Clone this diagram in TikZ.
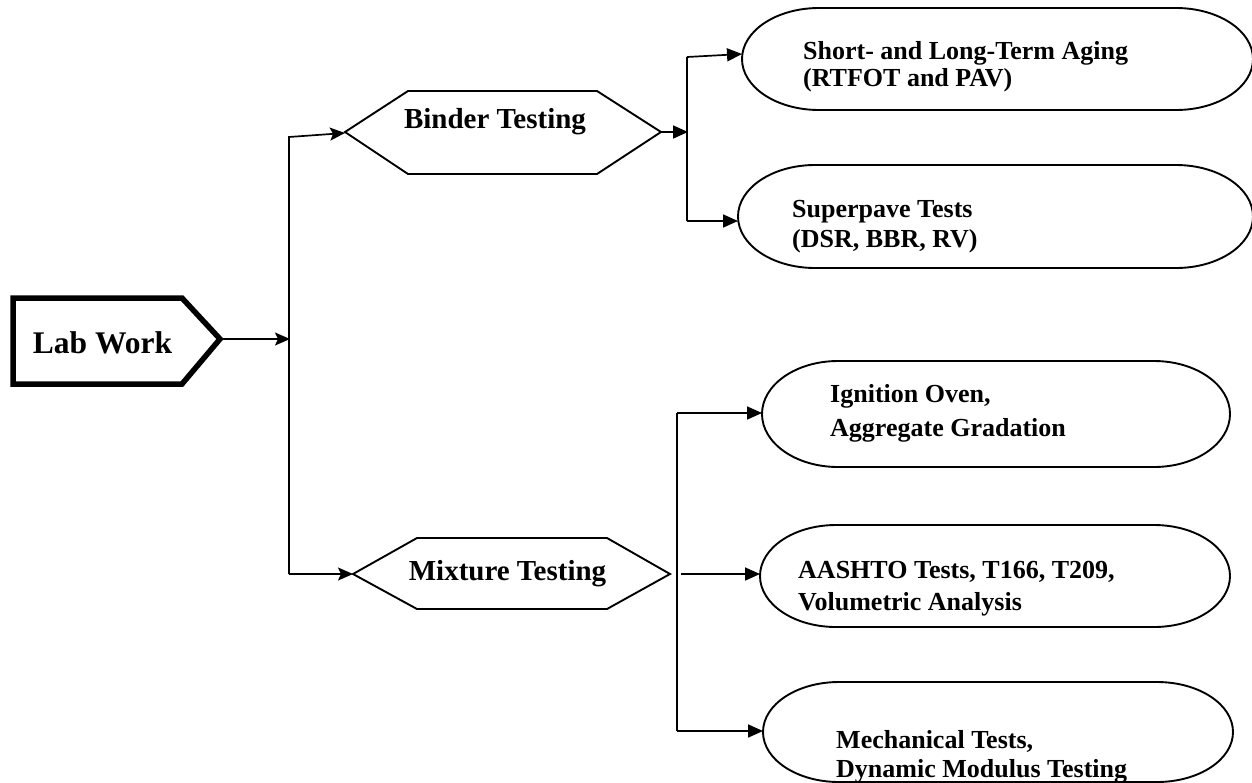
\documentclass[tikz,border=0pt]{standalone}
\usepackage{fontspec}
\setmainfont{Liberation Serif}
\usetikzlibrary{arrows.meta}
\newcommand\stadiumbox[5]{% x1, top, x2, bottom, rx
  \draw[shp] ({#1+#5},#2) -- ({#3-#5},#2)
    arc[start angle=-90,end angle=90,x radius=#5,y radius={(#4-#2)/2}]
    -- ({#1+#5},#4)
    arc[start angle=90,end angle=270,x radius=#5,y radius={(#4-#2)/2}] -- cycle;}
\begin{document}
\begin{tikzpicture}[x=1pt,y=-1pt,line join=miter,
  conn/.style={line width=1.7pt},
  arrS/.style={conn,-{Stealth[length=15pt,width=13pt,inset=3pt]}},
  arrT/.style={conn,-{Triangle[length=15pt,width=13pt]}},
  shp/.style={line width=1.9pt},
  lbl/.style={font=\bfseries\fontsize{26}{30}\selectfont,anchor=base west,inner sep=0pt},
  hexlbl/.style={font=\bfseries\fontsize{29}{34}\selectfont,anchor=base,inner sep=0pt}]
\useasboundingbox (0,0) rectangle (1252,782);
\clip (0,0) rectangle (1252,782);

% Lab Work
\draw[line width=5.5pt] (13,298) -- (182,298) -- (220,339) -- (182,384) -- (13,384) -- cycle;
\node[font=\bfseries\fontsize{31.5}{36}\selectfont,anchor=base,inner sep=0pt] (lab) at (102.5,353) {Lab Work};
\coordinate (labR) at (223,339);

% hexagons
\draw[shp] (345,132) -- (408,91) -- (597,91) -- (661,132) -- (597,174) -- (408,174) -- cycle;
\node[hexlbl] (binder) at (495,128) {Binder Testing};
\coordinate (binL) at (345,133);
\coordinate (binR) at (661,132);

\draw[shp] (353,574) -- (417,538) -- (607,538) -- (670,574) -- (607,609) -- (417,609) -- cycle;
\node[hexlbl] (mixture) at (507.5,580) {Mixture Testing};
\coordinate (mixL) at (353,574);

% left trunk
\coordinate (vt) at (289,137);
\coordinate (vb) at (289,574);
\coordinate (vm) at (290,339);
\draw[arrS] (labR) -- (vm);
\draw[arrS] (vb) -- (vt) -- (binL);
\draw[arrS] (vb) -- (mixL);

% stadium boxes
\stadiumbox{742}{8}{1253}{110}{77}
\stadiumbox{738}{165}{1253}{268}{77}
\stadiumbox{762}{361}{1230}{467}{76}
\stadiumbox{760}{525}{1230}{627}{76}
\stadiumbox{763}{682}{1233}{782}{76}

\coordinate (e1L) at (742,54);
\coordinate (e2L) at (738,221);
\coordinate (e3L) at (762,413);
\coordinate (e4L) at (760,574);
\coordinate (e5L) at (763,731);

% binder branch
\coordinate (bt) at (687,57);
\coordinate (bb) at (687,221);
\coordinate (bm) at (688,132);
\draw[arrT] (binR) -- (bm);
\draw[conn] (bt) -- (bb);
\draw[arrT] (bt) -- (e1L);
\draw[arrT] (bb) -- (e2L);

% mixture branch
\coordinate (mt) at (677,413);
\coordinate (mb) at (677,731);
\coordinate (mm) at (681,574);
\draw[conn] (mt) -- (mb);
\draw[arrT] (mt) -- (e3L);
\draw[arrT] (mm) -- (e4L);
\draw[arrT] (mb) -- (e5L);

% labels
\node[lbl] (t1a) at (803,59) {Short- and Long-Term Aging};
\node[lbl] (t1b) at (803,86) {(RTFOT and PAV)};
\node[lbl] (t2a) at (792,217) {Superpave Tests};
\node[lbl] (t2b) at (792,247) {(DSR, BBR, RV)};
\node[lbl] (t3a) at (830,402) {Ignition Oven,};
\node[lbl] (t3b) at (830,436) {Aggregate Gradation};
\node[lbl] (t4a) at (798,578) {AASHTO Tests, T166, T209,};
\node[lbl] (t4b) at (798,610) {Volumetric Analysis};
\node[lbl] (t5a) at (836,748) {Mechanical Tests,};
\node[lbl] (t5b) at (836,777) {Dynamic Modulus Testing};
\end{tikzpicture}
\end{document}
